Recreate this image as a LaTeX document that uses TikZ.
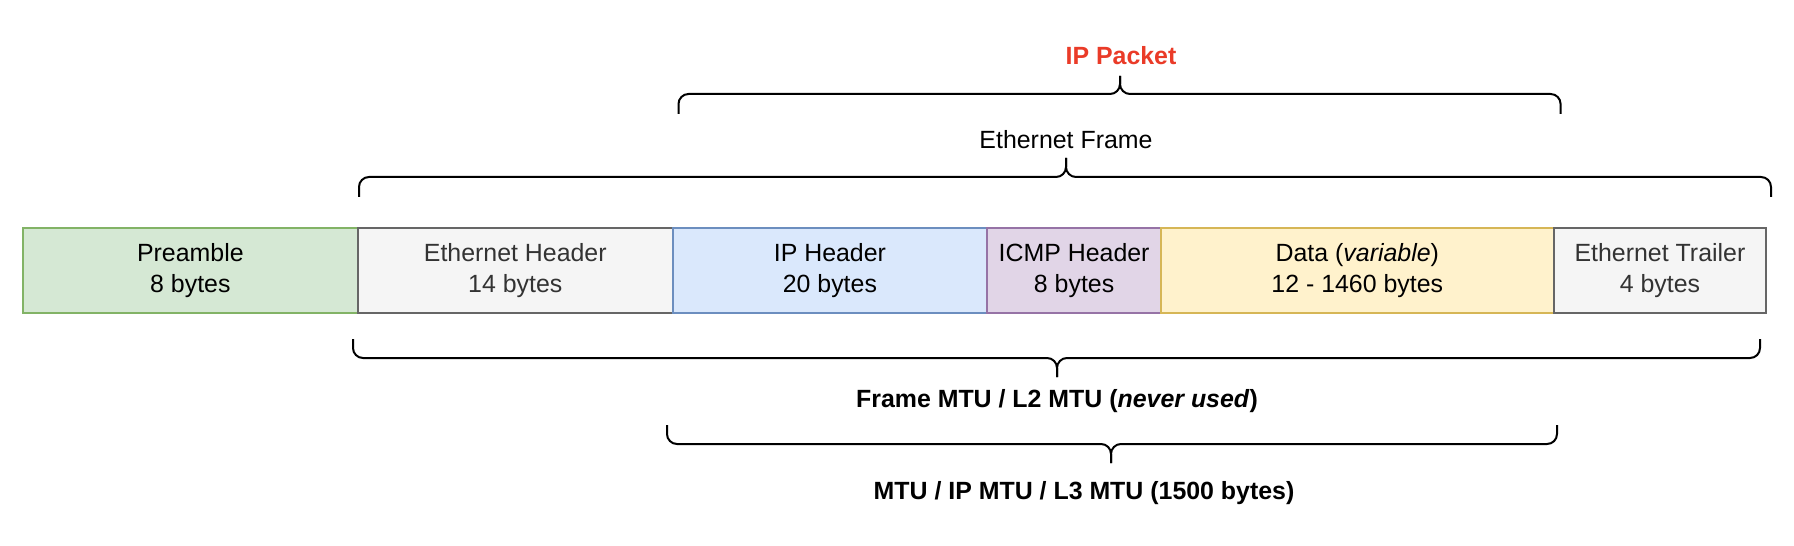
\documentclass[tikz,border=0pt]{standalone}
\usepackage{fontspec}
\setmainfont{Liberation Sans}
\definecolor{preFill}{HTML}{D5E8D4}\definecolor{preLine}{HTML}{82B366}
\definecolor{grayFill}{HTML}{F5F5F5}\definecolor{grayLine}{HTML}{666666}\definecolor{grayText}{HTML}{333333}
\definecolor{ipFill}{HTML}{DAE8FC}\definecolor{ipLine}{HTML}{6C8EBF}
\definecolor{icmpFill}{HTML}{E1D5E7}\definecolor{icmpLine}{HTML}{9673A6}
\definecolor{dataFill}{HTML}{FFF2CC}\definecolor{dataLine}{HTML}{D6B656}
\definecolor{ipRed}{HTML}{EA3B28}
\newcommand\curlybrace[6]{%
  \draw[bracestyle] (#1,#4) -- (#1,#5) -- (#3,#5) -- (#3,#6);
  \draw[bracestyle] (#3,#6) -- (#3,#5) -- (#2,#5) -- (#2,#4);}
\begin{document}
\begin{tikzpicture}[x=1bp,y=-1bp,
  field/.style={draw, line width=2bp, minimum height=84.5bp, inner sep=0pt,
    anchor=north west, align=center, font=\fontsize{25}{31}\selectfont},
  bracestyle/.style={line width=2bp, rounded corners=10bp},
  lab/.style={inner sep=0pt, font=\fontsize{25}{31}\selectfont}]
\useasboundingbox (0,0) rectangle (1794,546);
% fields
\node[field, fill=preFill, draw=preLine, minimum width=335.3bp] (pre) at (21.7,227) {Preamble\\8 bytes};
\node[field, fill=grayFill, draw=grayLine, text=grayText, minimum width=314.6bp] (eth) at (357,227) {Ethernet Header\\14 bytes};
\node[field, fill=ipFill, draw=ipLine, minimum width=314.6bp] (iph) at (671.6,227) {IP Header\\20 bytes};
\node[field, fill=icmpFill, draw=icmpLine, minimum width=173.8bp] (icmp) at (986.2,227) {ICMP Header\\8 bytes};
\node[field, fill=dataFill, draw=dataLine, minimum width=392.6bp] (data) at (1160,227) {Data (\textit{variable})\\12 - 1460 bytes};
\node[field, fill=grayFill, draw=grayLine, text=grayText, minimum width=212.7bp] (trl) at (1552.6,227) {Ethernet Trailer\\4 bytes};
% braces
\curlybrace{678.5}{1560.6}{1120}{114}{94}{76}
\curlybrace{359}{1771}{1066}{197}{177}{158}
\curlybrace{353}{1760}{1057}{339}{358}{377}
\curlybrace{667}{1557}{1111}{425}{444}{463}
% labels
\node[lab, text=ipRed, font=\fontsize{25}{31}\selectfont\bfseries] (ippacket) at (1121,56) {IP Packet};
\node[lab] (ethframe) at (1066,140) {Ethernet Frame};
\node[lab, font=\fontsize{25}{31}\selectfont\bfseries] (framemtu) at (1057,401) {Frame MTU / L2 MTU (\textit{never used})};
\node[lab, font=\fontsize{25}{31}\selectfont\bfseries] (mtu) at (1084,493) {MTU / IP MTU / L3 MTU (1500 bytes)};
\end{tikzpicture}
\end{document}
